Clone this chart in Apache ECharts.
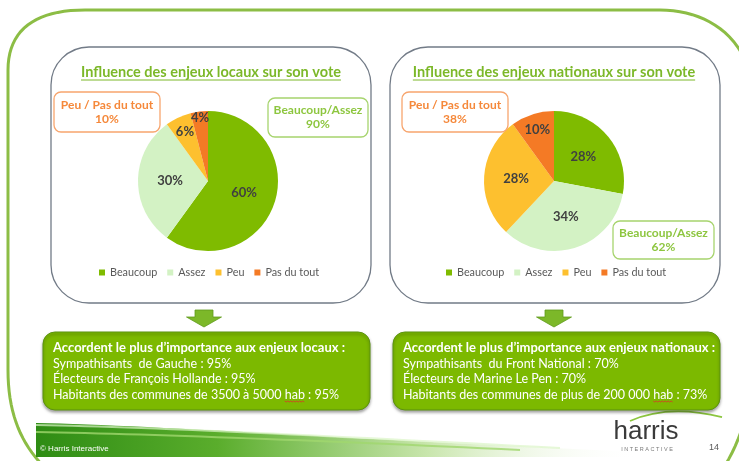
<!DOCTYPE html>
<html><head><meta charset="utf-8">
<script src="https://cdn.jsdelivr.net/npm/echarts@6/dist/echarts.min.js"></script>
<style>html,body{margin:0;padding:0;background:#fff}#c{width:739px;height:461px}</style>
</head><body><div id="c"></div>
<script>
// ---------- data ----------
const categories = ['Beaucoup', 'Assez', 'Peu', 'Pas du tout'];
const localValues = [60, 30, 6, 4];
const nationalValues = [28, 34, 28, 10];
const chartTitles = ['Influence des enjeux locaux sur son vote', 'Influence des enjeux nationaux sur son vote'];
const lowLabel = 'Peu / Pas du tout';
const highLabel = 'Beaucoup/Assez';
const localBoxTitle = 'Accordent le plus d’importance aux enjeux locaux :';
const localBoxLines = ['Sympathisants  de Gauche : 95%', 'Électeurs de François Hollande : 95%', 'Habitants des communes de 3500 à 5000 hab : 95%'];
const nationalBoxTitle = 'Accordent le plus d’importance aux enjeux nationaux :';
const nationalBoxLines = ['Sympathisants  du Front National : 70%', 'Électeurs de Marine Le Pen : 70%', 'Habitants des communes de plus de 200 000 hab : 73%'];
const footerText = '© Harris Interactive';
const logoText = 'harris';
const logoSub = 'I N T E R A C T I V E';
const pageNumber = '14';

// ---------- style ----------
const sliceColors = ['#7fbb00', '#d3f2c4', '#fdc02f', '#f47a25'];
const FONT = 'Lato, "Open Sans", sans-serif';
const GREEN_T = '#7cb829';
const ORANGE_T = '#f5883a';
const R = 70;

const chart = echarts.init(document.getElementById('c'), null, {renderer: 'canvas'});

const measure = (() => {
  const ctx = document.createElement('canvas').getContext('2d');
  return (text, font) => { ctx.font = font; return ctx.measureText(text).width; };
})();

// cubic bezier sampler for decorative outlines
function bez(p0, p1, p2, p3, n) {
  const pts = [];
  for (let i = 0; i <= n; i++) {
    const t = i / n, u = 1 - t;
    pts.push([u*u*u*p0[0] + 3*u*u*t*p1[0] + 3*u*t*t*p2[0] + t*t*t*p3[0],
              u*u*u*p0[1] + 3*u*u*t*p1[1] + 3*u*t*t*p2[1] + t*t*t*p3[1]]);
  }
  return pts;
}

function labelFrac(v) { return v < 5 ? 0.87 : (v <= 10 ? 0.73 : 0.5); }
const pieLabel = {position: 'inside', formatter: '{c}%', color: '#404040', fontFamily: FONT, fontWeight: 'bold', fontSize: 13, opacity: 1};

function pieSeries(values, center) {
  const fracs = values.map(labelFrac);
  const out = [{
    type: 'pie', center, radius: R, startAngle: 90, clockwise: true, silent: true,
    color: sliceColors, z: 2,
    data: categories.map((n, i) => ({name: n, value: values[i], label: {show: fracs[i] === 0.5}})),
    label: pieLabel, labelLine: {show: false}, emphasis: {disabled: true}
  }];
  [...new Set(fracs)].filter(f => f !== 0.5).forEach(f => {
    out.push({
      type: 'pie', center, radius: [(2 * f - 1) * R, R], startAngle: 90, clockwise: true, silent: true,
      z: 3, itemStyle: {color: 'rgba(0,0,0,0)'},
      data: categories.map((n, i) => ({name: n, value: values[i], label: {show: fracs[i] === f}})),
      label: pieLabel, labelLine: {show: false}, emphasis: {disabled: true}
    });
  });
  return out;
}

function legend(left) {
  return {data: categories, left, top: 262, icon: 'rect', itemWidth: 6, itemHeight: 6, itemGap: 10,
    selectedMode: false, textStyle: {fontFamily: FONT, fontSize: 10.8, color: '#595959'}};
}

const g = [];
// outer frame
const framePts = [].concat(
  bez([56, 478], [25, 452], [8, 420], [8, 370], 20),
  bez([8, 70], [8, 30], [35, 10], [85, 10], 20),
  bez([660, 10], [705, 10], [745, 35], [752, 85], 20),
  bez([752, 340], [752, 405], [745, 440], [712, 485], 20));
g.push({type: 'polyline', z: 0, shape: {points: framePts}, style: {fill: null, stroke: '#8cbd45', lineWidth: 3}});
// panels
[[51, 47, 320, 256], [390, 47, 330, 256]].forEach(p => g.push({type: 'rect', z: 1, shape: {x: p[0], y: p[1], width: p[2], height: p[3], r: 38},
  style: {fill: null, stroke: '#727b87', lineWidth: 1.3}}));
// titles + underline
const titleFont = 'bold 14.5px ' + FONT;
[[chartTitles[0], 211], [chartTitles[1], 554]].forEach(([t, cx]) => {
  const w = measure(t, titleFont);
  g.push({type: 'text', z: 5, x: cx, y: 72, style: {text: t, font: titleFont, fill: GREEN_T, textAlign: 'center', textVerticalAlign: 'middle'}});
  g.push({type: 'line', z: 5, shape: {x1: cx - w / 2, y1: 80, x2: cx + w / 2, y2: 80}, style: {stroke: GREEN_T, lineWidth: 1}});
});
// callouts
function callout(x, y, w, h, title, pct, color, border) {
  const cx = x + w / 2, cy = y + h / 2;
  g.push({type: 'rect', z: 4, shape: {x, y, width: w, height: h, r: 7}, style: {fill: '#fff', stroke: border, lineWidth: 1.3}});
  g.push({type: 'text', z: 5, x: cx, y: cy - 7, style: {text: title, font: 'bold 12px ' + FONT, fill: color, textAlign: 'center', textVerticalAlign: 'middle'}});
  g.push({type: 'text', z: 5, x: cx, y: cy + 7, style: {text: pct + '%', font: 'bold 12px ' + FONT, fill: color, textAlign: 'center', textVerticalAlign: 'middle'}});
}
const lowL = localValues[2] + localValues[3], highL = localValues[0] + localValues[1];
const lowN = nationalValues[2] + nationalValues[3], highN = nationalValues[0] + nationalValues[1];
callout(54, 92, 106, 40, lowLabel, lowL, ORANGE_T, '#f7a56e');
callout(268, 98, 100, 39, highLabel, highL, '#8dc63f', '#a7d46e');
callout(402, 92, 106, 40, lowLabel, lowN, ORANGE_T, '#f7a56e');
callout(613, 221, 101, 38, highLabel, highN, '#8dc63f', '#a7d46e');
// arrows
[204, 554].forEach(cx => g.push({type: 'polygon', z: 4, shape: {points: [[cx - 9, 310], [cx + 9, 310], [cx + 9, 317], [cx + 17.5, 317], [cx, 327], [cx - 17.5, 317], [cx - 9, 317]]},
  style: {fill: '#7cb829', stroke: '#5f9a1c', lineWidth: 0.8}}));
// green boxes
const boxTextFont = '12.5px ' + FONT;
function greenBox(x, title, lines) {
  g.push({type: 'rect', z: 4, shape: {x, y: 332, width: 327, height: 78, r: 12},
    style: {fill: '#7cb900', stroke: '#5c9410', lineWidth: 1, shadowBlur: 3, shadowOffsetY: 2, shadowColor: 'rgba(0,0,0,0.35)'}});
  g.push({type: 'text', z: 5, x: x + 10, y: 348, style: {text: title, font: 'bold 13px ' + FONT, fill: '#fff', textAlign: 'left', textVerticalAlign: 'middle'}});
  lines.forEach((l, i) => {
    const ty = 363.5 + i * 15.5;
    g.push({type: 'text', z: 5, x: x + 10, y: ty, style: {text: l, font: boxTextFont, fill: '#fff', textAlign: 'left', textVerticalAlign: 'middle'}});
    const k = l.indexOf(' hab ');
    if (k >= 0) { // spell-check squiggle under "hab"
      const x0 = x + 10 + measure(l.slice(0, k + 1), boxTextFont), x1 = x0 + measure('hab', boxTextFont);
      const pts = [];
      for (let px = x0, j = 0; px <= x1 + 0.1; px += 1.5, j++) pts.push([px, ty + 6.5 + (j % 2 ? 1 : 0)]);
      g.push({type: 'polyline', z: 5, shape: {points: pts}, style: {fill: null, stroke: '#e0312a', lineWidth: 0.8}});
    }
  });
}
greenBox(43, localBoxTitle, localBoxLines);
greenBox(393, nationalBoxTitle, nationalBoxLines);
// footer band
const bandPts = [].concat(bez([36, 423], [150, 425], [360, 440], [640, 452], 30), [[640, 457], [36, 457]]);
g.push({type: 'polygon', z: 1, shape: {points: bandPts},
  style: {fill: new echarts.graphic.LinearGradient(0, 0, 1, 0, [
    {offset: 0, color: '#2e8c14'}, {offset: 0.3, color: '#5aad2c'}, {offset: 0.65, color: '#c9e6ad'}, {offset: 1, color: 'rgba(255,255,255,0)'}])}});
g.push({type: 'polyline', z: 1, shape: {points: bez([36, 425], [150, 427], [330, 436], [560, 448], 30)},
  style: {fill: null, stroke: 'rgba(220,245,200,0.7)', lineWidth: 2}});
g.push({type: 'polyline', z: 1, shape: {points: bez([36, 432], [150, 434], [330, 441], [520, 450], 30)},
  style: {fill: null, stroke: 'rgba(160,215,110,0.8)', lineWidth: 2}});
g.push({type: 'text', z: 5, x: 40, y: 449, style: {text: footerText, font: '8px "Liberation Sans", Arial, sans-serif', fill: '#fff', textAlign: 'left', textVerticalAlign: 'middle'}});
// logo
g.push({type: 'bezierCurve', z: 3, shape: {x1: 630, y1: 421, cpx1: 668, cpy1: 404, x2: 722, y2: 417}, style: {fill: null, stroke: '#8cc63f', lineWidth: 1.8}});
g.push({type: 'text', z: 5, x: 646, y: 432, style: {text: logoText, font: '26px "Liberation Sans Narrow", "Liberation Sans", sans-serif', fill: '#3a3a3a', textAlign: 'center', textVerticalAlign: 'middle'}});
g.push({type: 'text', z: 5, x: 647, y: 449, style: {text: logoSub, font: '5.5px "Liberation Sans", sans-serif', fill: '#7a7a7a', textAlign: 'center', textVerticalAlign: 'middle'}});
g.push({type: 'text', z: 5, x: 714, y: 448, style: {text: pageNumber, font: '9px "Liberation Sans", sans-serif', fill: '#595959', textAlign: 'center', textVerticalAlign: 'middle'}});

chart.setOption({
  animation: false,
  backgroundColor: '#ffffff',
  legend: [legend(94), legend(441)],
  series: [...pieSeries(localValues, [208, 181]), ...pieSeries(nationalValues, [554, 181])],
  graphic: {elements: g}
});
</script></body></html>
